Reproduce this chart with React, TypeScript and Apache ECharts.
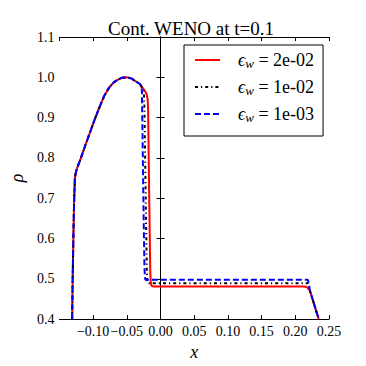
import React, { useEffect, useRef } from "react";
import * as echarts from "echarts";

// ---- data ----
const seriesLabels = ["2e-02", "1e-02", "1e-03"];
const seriesColors = ["#ff0000", "#000000", "#0000ff"];

// shared rising part (all three curves coincide)
const riseX = [-0.1311, -0.1303, -0.1293, -0.1282, -0.127, -0.1255, -0.1232, -0.118, -0.1114, -0.104, -0.0973, -0.09, -0.0832, -0.076, -0.069, -0.0643, -0.057, -0.05, -0.043, -0.036, -0.031];
const riseY = [0.4, 0.5, 0.6, 0.69, 0.75, 0.765, 0.777, 0.8, 0.832, 0.866, 0.897, 0.928, 0.955, 0.975, 0.988, 0.993, 0.999, 1.0, 0.997, 0.989, 0.984];

// eps_w = 2e-02
const redX = [-0.027, -0.023, -0.0205, -0.019, -0.0184, -0.0175, -0.0163, -0.0152, -0.0146, -0.0138, -0.0125, -0.01, 0.0, 0.2134, 0.2165, 0.2185, 0.22, 0.2217, 0.2348];
const redY = [0.975, 0.966, 0.958, 0.945, 0.92, 0.8, 0.65, 0.52, 0.495, 0.485, 0.4815, 0.481, 0.481, 0.481, 0.4795, 0.477, 0.474, 0.4705, 0.4];

// eps_w = 1e-02
const blackX = [-0.028, -0.0255, -0.0245, -0.0238, -0.0228, -0.0215, -0.0203, -0.0198, -0.019, -0.017, 0.2175, 0.2188, 0.22, 0.2217, 0.2348];
const blackY = [0.976, 0.968, 0.955, 0.92, 0.8, 0.65, 0.52, 0.495, 0.4895, 0.489, 0.489, 0.49, 0.483, 0.4705, 0.4];

// eps_w = 1e-03
const blueX = [-0.029, -0.0282, -0.0276, -0.0272, -0.0262, -0.025, -0.0238, -0.0232, -0.0225, -0.021, 0.2183, 0.2195, 0.2207, 0.2217, 0.2348];
const blueY = [0.98, 0.976, 0.965, 0.92, 0.8, 0.65, 0.53, 0.505, 0.4978, 0.4976, 0.4976, 0.493, 0.482, 0.4705, 0.4];

const xMin = -0.15;
const xMax = 0.25;
const xStep = 0.05;
const yMin = 0.4;
const yMax = 1.1;
const yStep = 0.1;

const FONT = "Liberation Serif";

function pairs(xs: number[], ys: number[]): number[][] {
  return xs.map((x, i) => [x, ys[i]]);
}

export default function App() {
  const ref = useRef<HTMLDivElement | null>(null);

  useEffect(() => {
    if (!ref.current) return;
    const chart = echarts.init(ref.current, null, { renderer: "svg" });

    const tails = [pairs(redX, redY), pairs(blackX, blackY), pairs(blueX, blueY)];
    const rise = pairs(riseX, riseY);
    const dashes: any[] = ["solid", [3, 3, 1.2, 3], [6, 3]];

    const names = seriesLabels.map((s) => "eps_w = " + s);

    const axisCommon = {
      type: "value" as const,
      axisLine: { show: true, lineStyle: { color: "#000", width: 1 } },
      axisTick: { show: true, inside: true, length: 4, lineStyle: { color: "#000", width: 1 } },
      splitLine: { show: false },
    };

    const fmtX = (v: number) => {
      const r = Math.round(v * 100) / 100;
      return (r < 0 ? "\u2212" : "") + Math.abs(r).toFixed(2);
    };

    chart.setOption({
      animation: false,
      backgroundColor: "#fff",
      title: {
        text: "Cont. WENO at t=0.1",
        left: 103,
        top: 14,
        textStyle: { fontFamily: FONT, fontSize: 19, fontWeight: "normal", color: "#000" },
      },
      grid: { left: 46, right: 37, top: 37, bottom: 37, containLabel: false },
      legend: {
        data: names,
        orient: "vertical",
        left: 184,
        top: 45,
        padding: [6, 9, 12, 10],
        itemWidth: 25,
        itemHeight: 16,
        itemGap: 8,
        borderColor: "#000",
        borderWidth: 1,
        borderRadius: 0,
        backgroundColor: "#fff",
        selectedMode: false,
        itemStyle: { opacity: 0 },
        formatter: (name: string) => {
          const v = name.replace("eps_w = ", "");
          return "{g|}{e|\u03F5}{w|w}{t| = " + v + "}";
        },
        textStyle: {
          fontFamily: FONT,
          fontSize: 18,
          color: "#000",
          rich: {
            g: { width: 13 },
            e: { fontFamily: FONT, fontStyle: "italic", fontSize: 18, color: "#000" },
            w: { fontFamily: FONT, fontStyle: "italic", fontSize: 13, color: "#000", padding: [7, 0, 0, 0] },
            t: { fontFamily: FONT, fontSize: 18, color: "#000" },
          },
        },
      },
      xAxis: [
        {
          ...axisCommon,
          position: "bottom",
          min: xMin,
          max: xMax,
          interval: xStep,
          name: "x",
          nameLocation: "middle",
          nameGap: 9,
          nameTextStyle: { fontFamily: FONT, fontStyle: "italic", fontSize: 18, color: "#000" },
          axisLabel: {
            show: true,
            showMinLabel: false,
            margin: 5,
            formatter: fmtX,
            fontFamily: FONT,
            fontSize: 14,
            color: "#000",
          },
        },
        {
          ...axisCommon,
          position: "top",
          min: xMin,
          max: xMax,
          interval: xStep,
          axisLabel: { show: false },
        },
      ],
      yAxis: [
        {
          ...axisCommon,
          position: "left",
          min: yMin,
          max: yMax,
          interval: yStep,
          name: "\u03C1",
          nameLocation: "middle",
          nameRotate: 90,
          nameGap: 23,
          nameTextStyle: { fontFamily: FONT, fontStyle: "italic", fontSize: 18, color: "#000" },
          axisLabel: {
            show: true,
            margin: 5,
            formatter: (v: number) => v.toFixed(1),
            fontFamily: FONT,
            fontSize: 14,
            color: "#000",
          },
        },
        {
          ...axisCommon,
          position: "right",
          min: yMin,
          max: yMax,
          interval: yStep,
          axisLabel: { show: false },
        },
      ],
      series: names.map((n, i) => ({
        name: n,
        type: "line",
        xAxisIndex: 0,
        yAxisIndex: 0,
        data: rise.concat(tails[i]),
        showSymbol: false,
        symbol: "none",
        smooth: false,
        clip: true,
        z: 2 + i,
        lineStyle: { color: seriesColors[i], width: 2, type: dashes[i] },
        itemStyle: { color: seriesColors[i] },
      })),
    });

    return () => chart.dispose();
  }, []);

  return (
    <div
      ref={ref}
      style={{ position: "fixed", left: 0, top: 0, width: 366, height: 366, background: "#fff" }}
    />
  );
}
